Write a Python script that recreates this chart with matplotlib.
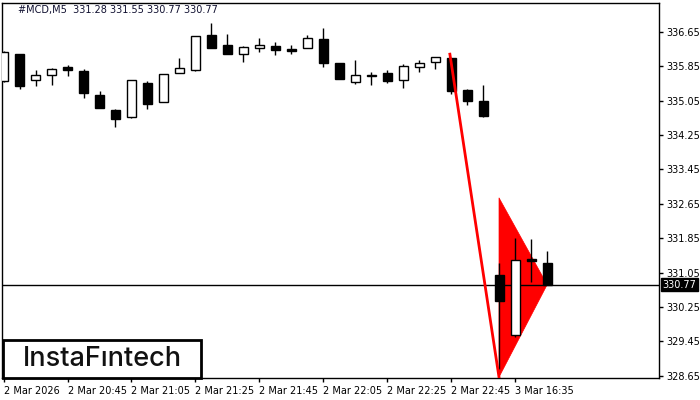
import matplotlib
matplotlib.use("Agg")
import matplotlib.pyplot as plt
from matplotlib.patches import Rectangle, Polygon

# candle data, #MCD M5
opens = [335.50, 336.14, 335.53, 335.65, 335.84, 335.74, 335.18, 334.84, 334.67, 335.46,
         335.02, 335.70, 335.77, 336.58, 336.35, 336.14, 336.28, 336.32, 336.26, 336.28,
         336.49, 335.93, 335.49, 335.63, 335.70, 335.53, 335.84, 335.95, 336.05, 335.30,
         335.05, 331.00, 329.60, 331.36, 331.28]
highs = [336.20, 336.14, 335.77, 335.80, 335.88, 335.79, 335.28, 334.86, 335.53, 335.51,
         335.67, 336.05, 336.56, 336.86, 336.60, 336.32, 336.51, 336.42, 336.35, 336.58,
         336.74, 335.93, 336.00, 335.72, 335.77, 335.91, 336.00, 336.07, 336.05, 335.32,
         335.42, 331.28, 331.86, 331.84, 331.55]
lows = [335.48, 335.32, 335.39, 335.42, 335.63, 335.12, 334.87, 334.44, 334.65, 334.86,
        335.02, 335.70, 335.74, 336.28, 336.14, 335.95, 336.19, 336.12, 336.14, 336.28,
        335.84, 335.56, 335.44, 335.42, 335.46, 335.35, 335.72, 335.79, 335.21, 334.95,
        334.67, 328.81, 329.56, 330.84, 330.77]
closes = [336.18, 335.39, 335.65, 335.79, 335.77, 335.23, 334.88, 334.63, 335.53, 334.98,
          335.67, 335.81, 336.56, 336.28, 336.14, 336.30, 336.35, 336.23, 336.21, 336.51,
          335.93, 335.56, 335.65, 335.64, 335.51, 335.86, 335.93, 336.07, 335.28, 335.05,
          334.70, 330.39, 331.35, 331.33, 330.77]

tick_idx = [0, 4, 8, 12, 16, 20, 24, 28, 32]
tick_labels = ["2 Mar 2026", "2 Mar 20:45", "2 Mar 21:05", "2 Mar 21:25", "2 Mar 21:45",
               "2 Mar 22:05", "2 Mar 22:25", "2 Mar 22:45", "3 Mar 16:35"]
price_ticks = [336.65, 335.85, 335.05, 334.25, 333.45, 332.65, 331.85, 331.05, 330.25, 329.45, 328.65]

last_price = 330.77
# bearish pennant: flagpole and triangle
pole_x = [27.9, 30.97]
pole_y = [336.13, 328.62]
tri_x = [30.97, 30.97, 33.98]
tri_y = [332.79, 328.62, 330.77]

fig = plt.figure(figsize=(7, 4), dpi=100)
ax = fig.add_axes([2 / 700, 22 / 400, 657 / 700, 375 / 400])

ax.add_patch(Polygon(list(zip(tri_x, tri_y)), closed=True, facecolor="#ff0000",
                     edgecolor="#ff0000", linewidth=0.5, zorder=1))
ax.axhline(last_price, color="black", linewidth=1, zorder=2)

w = 0.62
for i, (o, h, l, c) in enumerate(zip(opens, highs, lows, closes)):
    ax.plot([i, i], [l, h], color="black", linewidth=1, zorder=3, solid_capstyle="butt")
    bottom = min(o, c)
    height = max(abs(c - o), 0.01)
    fc = "white" if c >= o else "black"
    ax.add_patch(Rectangle((i - w / 2, bottom), w, height, facecolor=fc,
                           edgecolor="black", linewidth=1, zorder=3.5))

ax.plot(pole_x, pole_y, color="#ff0000", linewidth=2, zorder=4)

ax.set_xlim(-0.094, 40.97)
ax.set_ylim(328.60, 337.32)

ax.yaxis.tick_right()
ax.set_yticks(price_ticks)
ax.set_yticklabels([f"{p:.2f}" for p in price_ticks], fontsize=7, family="DejaVu Sans")
ax.tick_params(axis="y", direction="out", length=3, width=1, pad=2)
ax.set_xticks(tick_idx)
ax.set_xticklabels(tick_labels, fontsize=7, family="DejaVu Sans", ha="left")
ax.tick_params(axis="x", direction="out", length=3, width=1, pad=3)
for s in ax.spines.values():
    s.set_linewidth(1)
    s.set_color("black")

ax.text(1.005, last_price, f"{last_price:.2f}", transform=ax.get_yaxis_transform(),
        fontsize=7, color="white", va="center", ha="left", zorder=10, clip_on=False,
        bbox=dict(boxstyle="square,pad=0.15", facecolor="black", edgecolor="black"))

fig.text(18 / 700, 1 - 10 / 400, "#MCD,M5  331.28 331.55 330.77 330.77",
         fontsize=7, color="#101030", va="center", ha="left")

fig.patches.append(Rectangle((3 / 700, 22 / 400), 198 / 700, 38 / 400, transform=fig.transFigure,
                             facecolor="white", edgecolor="black", linewidth=2, zorder=20))
fig.text(102 / 700, 1 - 359 / 400, "InstaF\u0131ntech", fontsize=19.5, family="Inter",
         fontweight="medium", color="#111111", ha="center", va="center", zorder=21)

fig.savefig("out.png", dpi=100)
